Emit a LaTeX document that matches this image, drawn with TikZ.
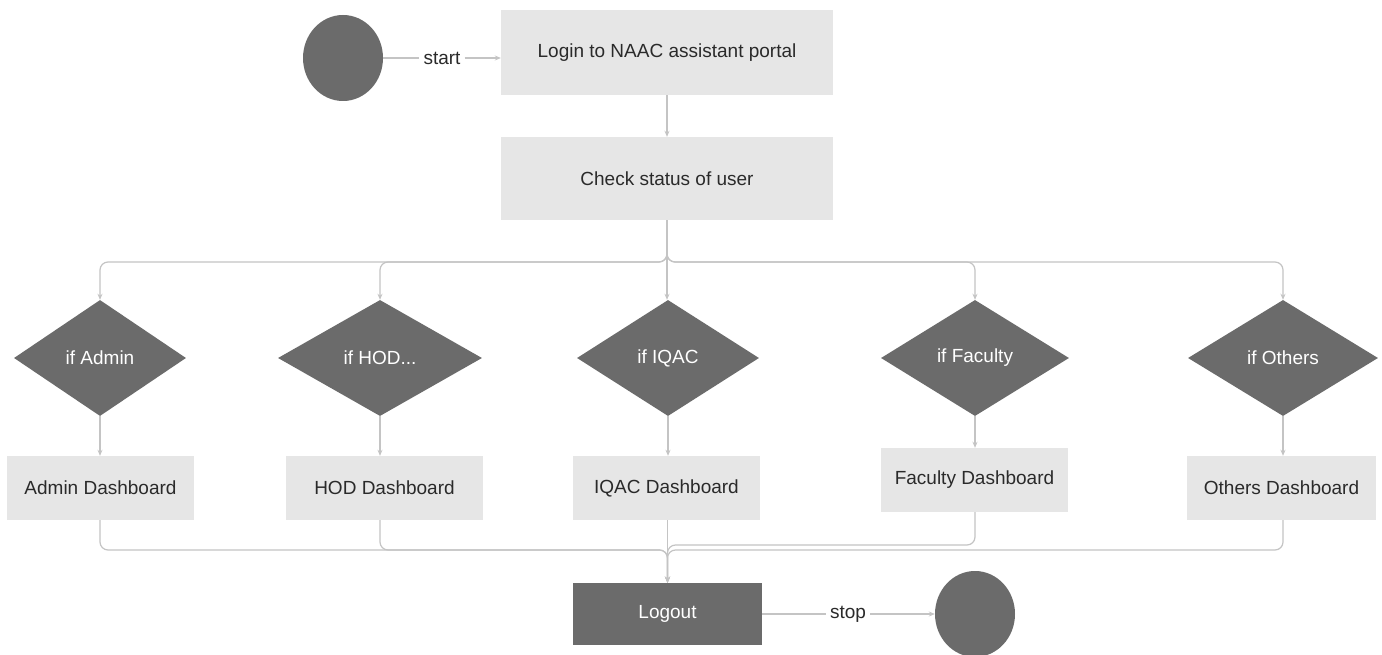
\documentclass[tikz,border=0pt]{standalone}
\usepackage{fontspec}
\setmainfont{Liberation Sans}
\usetikzlibrary{shapes.geometric,arrows.meta}
\definecolor{lightbox}{HTML}{E6E6E6}
\definecolor{darkbox}{HTML}{6B6B6B}
\definecolor{txt}{HTML}{2A2A2A}
\definecolor{wire}{HTML}{C4C4C4}
\tikzset{
  lbox/.style={rectangle, fill=lightbox, text=txt, inner sep=0pt, font=\fontsize{19}{22}\selectfont},
  dbox/.style={rectangle, fill=darkbox, text=white, inner sep=0pt, font=\fontsize{19}{22}\selectfont},
  ddia/.style={diamond, fill=darkbox, text=white, inner sep=0pt, font=\fontsize{19}{22}\selectfont},
  term/.style={ellipse, fill=darkbox, inner sep=0pt, minimum width=80pt, minimum height=86pt},
  lbl/.style={text=txt, inner sep=4pt, font=\fontsize{19}{22}\selectfont},
  wireline/.style={draw=wire, line width=1.2pt, rounded corners=8pt},
  arr/.style={wireline, -{Stealth[length=6pt,width=5pt]}}
}
\begin{document}
\begin{tikzpicture}[x=1pt,y=-1pt]
\useasboundingbox[fill=white] (0,0) rectangle (1382,655);
% start
\node[term] (start) at (343,58) {};
\node[lbl, anchor=center] (startlbl) at (442,58) {start};
\node[lbox, minimum width=332pt, minimum height=85pt] (login) at (667,52.5) {Login to NAAC assistant portal};
\node[lbox, minimum width=332pt, minimum height=83pt] (check) at (667,178.5) {Check status of user};
% diamonds
\node[ddia, minimum width=172pt, minimum height=116pt] (dadmin) at (100,358) {if Admin};
\node[ddia, minimum width=204pt, minimum height=116pt] (dhod) at (380,358) {if HOD...};
\node[ddia, minimum width=182pt, minimum height=116pt] (diqac) at (668,358) {if IQAC};
\node[ddia, minimum width=188pt, minimum height=116pt] (dfac) at (975,358) {if Faculty};
\node[ddia, minimum width=190pt, minimum height=116pt] (doth) at (1283,358) {if Others};
% dashboards
\node[lbox, minimum width=187pt, minimum height=64pt] (badmin) at (100.5,488) {Admin Dashboard};
\node[lbox, minimum width=197pt, minimum height=64pt] (bhod) at (384.5,488) {HOD Dashboard};
\node[lbox, minimum width=187pt, minimum height=64pt] (biqac) at (666.5,488) {IQAC Dashboard};
\node[lbox, minimum width=187pt, minimum height=64pt] (bfac) at (974.5,480) {Faculty Dashboard};
\node[lbox, minimum width=189pt, minimum height=64pt] (both) at (1281.5,488) {Others Dashboard};
% logout and stop
\node[dbox, minimum width=189pt, minimum height=62pt] (logout) at (667.5,614) {Logout};
\node[lbl] (stoplbl) at (848,614) {stop};
\node[term] (stop) at (975,614) {};
\coordinate (bus) at (0,262);
\coordinate (mergea) at (0,550);
\coordinate (mergeb) at (0,545);
% connectors
\draw[wireline] (start.east) -- (startlbl.west);
\draw[arr] (startlbl.east) -- (startlbl.east -| login.west);
\draw[arr] (login.south) -- (check.north);
\draw[arr] (check.south) -- (check.south |- bus) -| (dadmin.north);
\draw[arr] (check.south) -- (check.south |- bus) -| (dhod.north);
\draw[arr] (check.south) -- (diqac.north -| check.south);
\draw[arr] (check.south) -- (check.south |- bus) -| (dfac.north);
\draw[arr] (check.south) -- (check.south |- bus) -| (doth.north);
\draw[arr] (dadmin.south) -- (dadmin.south |- badmin.north);
\draw[arr] (dhod.south) -- (dhod.south |- bhod.north);
\draw[arr] (diqac.south) -- (diqac.south |- biqac.north);
\draw[arr] (dfac.south) -- (dfac.south |- bfac.north);
\draw[arr] (doth.south) -- (doth.south |- both.north);
\draw[arr] (badmin.south -| dadmin.south) |- (logout.north |- mergea) -- (logout.north);
\draw[arr] (bhod.south -| dhod.south) |- (logout.north |- mergea) -- (logout.north);
\draw[arr] (biqac.south -| logout.north) -- (logout.north);
\draw[arr] (bfac.south -| dfac.south) |- (logout.north |- mergeb) -- (logout.north);
\draw[arr] (both.south -| doth.south) |- (logout.north |- mergea) -- (logout.north);
\draw[wireline] (logout.east) -- (stoplbl.west);
\draw[arr] (stoplbl.east) -- (stop.west);
\end{tikzpicture}
\end{document}
